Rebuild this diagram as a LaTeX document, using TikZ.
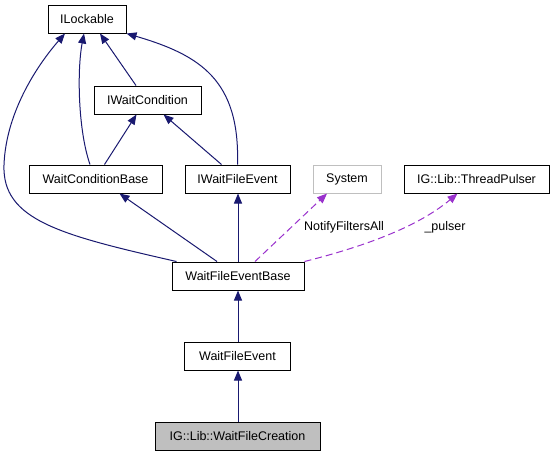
\documentclass[tikz,border=0pt]{standalone}
\usepackage{fontspec}
\setmainfont{Liberation Sans}
\usetikzlibrary{arrows.meta}
\definecolor{navyedge}{HTML}{191970}
\definecolor{purpleedge}{HTML}{9A32CD}
\definecolor{grayfill}{HTML}{BFBFBF}
\begin{document}
\begin{tikzpicture}[x=1pt,y=-1pt,
  cls/.style={draw=black,line width=1pt,fill=white,minimum height=28pt,inner sep=0pt,
    font=\fontsize{12.5}{14}\selectfont},
  inh/.style={draw=navyedge,line width=1pt,-{Triangle[length=10pt,width=8pt]},color=navyedge},
  use/.style={draw=purpleedge,line width=1pt,dash pattern=on 7pt off 4pt,
    -{Triangle[length=10pt,width=8pt]},color=purpleedge},
  lbl/.style={font=\fontsize{12.5}{14}\selectfont,inner sep=0pt}]
\useasboundingbox (0,0) rectangle (554,456);
\fill[white] (0,0) rectangle (554,456);
% nodes
\node[cls,minimum width=78pt] (ilock) at (87,19) {ILockable};
\node[cls,minimum width=107pt] (icond) at (147.5,100) {IWaitCondition};
\node[cls,minimum width=133pt] (wcb) at (95.5,179) {WaitConditionBase};
\node[cls,minimum width=105pt] (iwfe) at (237.5,179) {IWaitFileEvent};
\node[cls,draw=grayfill,minimum width=68pt] (sys) at (347,179) {System};
\node[cls,minimum width=145pt] (tp) at (476.5,179) {IG::Lib::ThreadPulser};
\node[cls,minimum width=132pt] (wfeb) at (238,276) {WaitFileEventBase};
\node[cls,minimum width=106pt] (wfe) at (237.5,356) {WaitFileEvent};
\node[cls,fill=grayfill,minimum width=165pt] (wfc) at (237.5,436) {IG::Lib::WaitFileCreation};
% inheritance edges
\draw[inh] ([xshift=-11.5pt]icond.north) -- ([xshift=13pt]ilock.south);
\draw[inh] ([xshift=-5.5pt]wcb.north) .. controls (78,130) and (77,70) .. ([xshift=-3pt]ilock.south);
\draw[inh] ([xshift=5pt]wfeb.north west) .. controls (60,235) and (2,220) .. (4,165)
  .. controls (6,110) and (40,62) .. ([xshift=-22pt]ilock.south);
\draw[inh] (iwfe.north) .. controls (240,80) and (200,55) .. (ilock.south east);
\draw[inh] ([xshift=9pt]wcb.north) -- ([xshift=-11pt]icond.south);
\draw[inh] ([xshift=-16pt]iwfe.north) -- ([xshift=16pt]icond.south);
\draw[inh] ([xshift=-21pt]wfeb.north) -- ([xshift=24pt]wcb.south);
\draw[inh] (wfeb.north) -- (wfeb.north |- iwfe.south);
\draw[inh] (wfe.north -| wfeb.south) -- (wfeb.south);
\draw[inh] (wfc.north -| wfeb.south) -- (wfe.south -| wfeb.south);
% usage edges
\draw[use] ([xshift=17pt]wfeb.north) -- ([xshift=-20pt]sys.south);
\draw[use] (wfeb.north east) .. controls (370,245) and (420,225) .. ([xshift=-19pt]tp.south);
% labels
\node[lbl] (l1) at (344,227) {NotifyFiltersAll};
\node[lbl] (l2) at (445,227) {\_pulser};
\end{tikzpicture}
\end{document}
